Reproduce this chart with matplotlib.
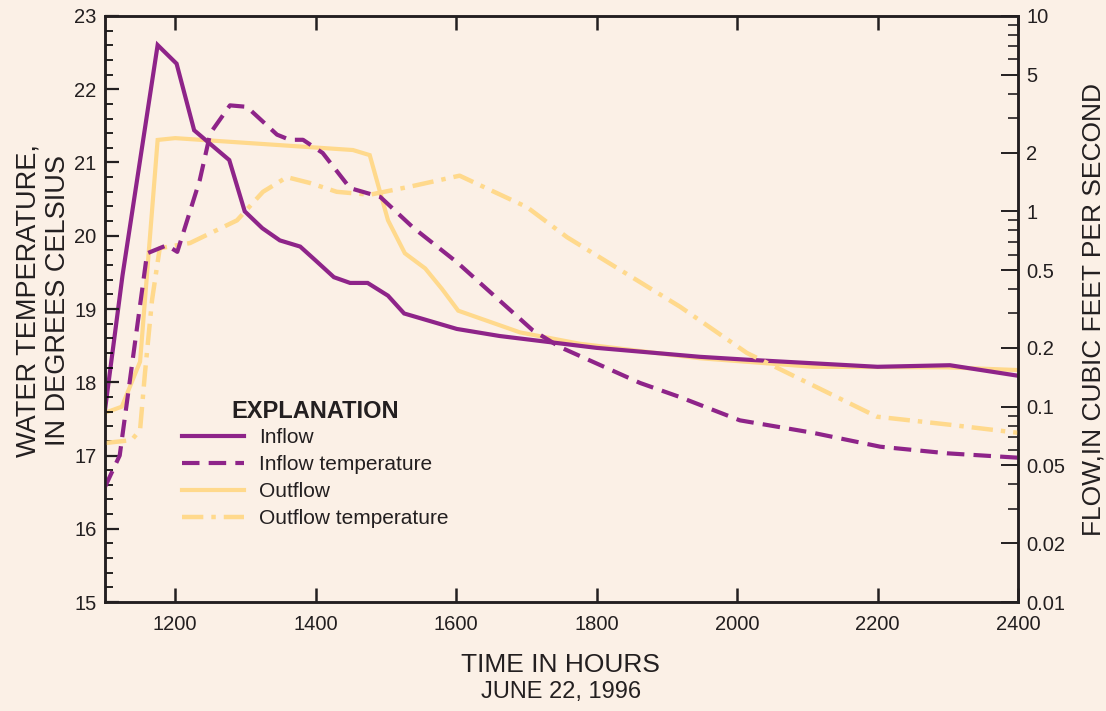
import matplotlib
matplotlib.use('Agg')
import matplotlib.pyplot as plt
from matplotlib.ticker import FixedLocator, FixedFormatter, NullFormatter

plt.rcParams['font.family'] = ['Liberation Sans', 'DejaVu Sans']

# flows (cubic feet per second, right log axis)
inflow_t = [1100, 1125, 1175, 1202, 1227, 1277, 1299, 1324, 1349, 1378, 1400,
            1426, 1449, 1474, 1503, 1526, 1601, 1662, 1800, 1947, 2014, 2200,
            2303, 2400]
inflow_q = [0.096, 0.47, 7.1, 5.7, 2.6, 1.83, 1.0, 0.82, 0.71, 0.66, 0.56,
            0.46, 0.43, 0.43, 0.37, 0.30, 0.25, 0.23, 0.20, 0.18, 0.174, 0.16,
            0.163, 0.144]

outflow_t = [1100, 1124, 1150, 1175, 1200, 1453, 1477, 1503, 1527, 1556, 1580,
             1603, 1691, 1776, 1947, 2108, 2299, 2400]
outflow_q = [0.093, 0.10, 0.17, 2.32, 2.37, 2.06, 1.94, 0.90, 0.61, 0.51, 0.40,
             0.31, 0.24, 0.21, 0.177, 0.16, 0.159, 0.154]

# temperatures (degrees Celsius, left axis)
intemp_t = [1100, 1121, 1160, 1188, 1203, 1235, 1250, 1278, 1302, 1345, 1363,
            1382, 1410, 1449, 1467, 1492, 1539, 1601, 1709, 1748, 1862, 1918,
            2004, 2108, 2204, 2299, 2400]
intemp_c = [16.57, 17.0, 19.76, 19.87, 19.78, 20.76, 21.40, 21.78, 21.76, 21.38,
            21.31, 21.31, 21.13, 20.65, 20.60, 20.53, 20.11, 19.64, 18.71, 18.48,
            17.99, 17.80, 17.48, 17.31, 17.12, 17.03, 16.97]

outtemp_t = [1100, 1138, 1150, 1157, 1167, 1178, 1221, 1288, 1325, 1359, 1392,
             1430, 1477, 1534, 1605, 1701, 1758, 1919, 2014, 2199, 2303, 2400]
outtemp_c = [17.17, 17.21, 17.35, 18.13, 19.12, 19.83, 19.90, 20.21, 20.60,
             20.80, 20.72, 20.60, 20.56, 20.67, 20.82, 20.39, 19.98, 19.03,
             18.40, 17.53, 17.42, 17.31]

flow_ticks = [0.01, 0.02, 0.05, 0.1, 0.2, 0.5, 1, 2, 5, 10]
flow_labels = ['0.01', '0.02', '0.05', '0.1', '0.2', '0.5', '1', '2', '5', '10']
flow_minor = [0.03, 0.04, 0.06, 0.07, 0.08, 0.09, 0.3, 0.4, 0.6, 0.7, 0.8, 0.9,
              3, 4, 6, 7, 8, 9]

purple = '#8e2489'
yellow = '#ffd98c'
ink = '#231f20'

fig = plt.figure(figsize=(11.06, 7.11), dpi=100, facecolor='#fbf0e6')
ax = fig.add_axes([0.0949, 0.1533, 0.8255, 0.8242])
ax2 = ax.twinx()
ax.set_zorder(ax2.get_zorder() + 1)
ax.patch.set_visible(False)
ax2.set_facecolor('white')

h_out, = ax2.plot(outflow_t, outflow_q, color=yellow, lw=3.0,
                  solid_joinstyle='miter', label='Outflow')
h_in, = ax2.plot(inflow_t, inflow_q, color=purple, lw=3.0,
                 solid_joinstyle='miter', label='Inflow')
h_otemp, = ax.plot(outtemp_t, outtemp_c, color=yellow, lw=3.2,
                   dashes=(4.8, 1.8, 1.0, 1.8), label='Outflow temperature')
h_itemp, = ax.plot(intemp_t, intemp_c, color=purple, lw=3.0,
                   dashes=(4.2, 2.2), label='Inflow temperature')

ax.set_xlim(1100, 2400)
ax.set_ylim(15, 23)
ax2.set_yscale('log')
ax2.set_ylim(0.01, 10)

ax.set_xticks([1200, 1400, 1600, 1800, 2000, 2200, 2400])
ax.set_yticks(range(15, 24))
ax.set_yticks([15 + 0.2 * i for i in range(41)], minor=True)
ax2.yaxis.set_major_locator(FixedLocator(flow_ticks))
ax2.yaxis.set_major_formatter(FixedFormatter(flow_labels))
ax2.yaxis.set_minor_locator(FixedLocator(flow_minor))
ax2.yaxis.set_minor_formatter(NullFormatter())

ax.tick_params(axis='x', which='major', direction='in', length=10, width=1.8,
               top=True, labelsize=14.5, colors=ink, pad=9)
ax.tick_params(axis='y', which='major', direction='in', length=10, width=1.6,
               labelsize=14.5, colors=ink, pad=6)
ax.tick_params(axis='y', which='minor', direction='in', length=6, width=1.2)
ax2.tick_params(axis='y', which='major', direction='in', length=12, width=1.4,
                labelsize=14.5, colors=ink, pad=6)
ax2.tick_params(axis='y', which='minor', direction='in', length=7, width=1.2,
                colors=ink)
for a in (ax, ax2):
    for s in a.spines.values():
        s.set_linewidth(1.8)
        s.set_color(ink)

# axis titles placed in figure coordinates
fig.text(0.507, 0.0647, 'TIME IN HOURS', ha='center', va='center',
         fontsize=19, color=ink)
fig.text(0.507, 0.0267, 'JUNE 22, 1996', ha='center', va='center',
         fontsize=17, color=ink)
fig.text(0.039, 0.577, 'WATER TEMPERATURE,\nIN DEGREES CELSIUS', ha='center',
         va='center', rotation=90, multialignment='center', fontsize=19.5,
         color=ink, linespacing=1.15)
ax2.set_ylabel('FLOW,IN CUBIC FEET PER SECOND', fontsize=19, color=ink,
               labelpad=12)

leg = ax.legend(handles=[h_in, h_itemp, h_out, h_otemp], title='EXPLANATION',
                loc='upper left', bbox_to_anchor=(0.084, 0.345), frameon=False,
                fontsize=15, handlelength=3.0, handletextpad=0.7,
                labelspacing=0.38, borderpad=0, borderaxespad=0)
leg.get_title().set_fontweight('bold')
leg.get_title().set_fontsize(17)
leg.get_title().set_color(ink)
leg._legend_box.sep = 4
for t in leg.get_texts():
    t.set_color(ink)

fig.savefig('out.png', dpi=100, facecolor=fig.get_facecolor())
